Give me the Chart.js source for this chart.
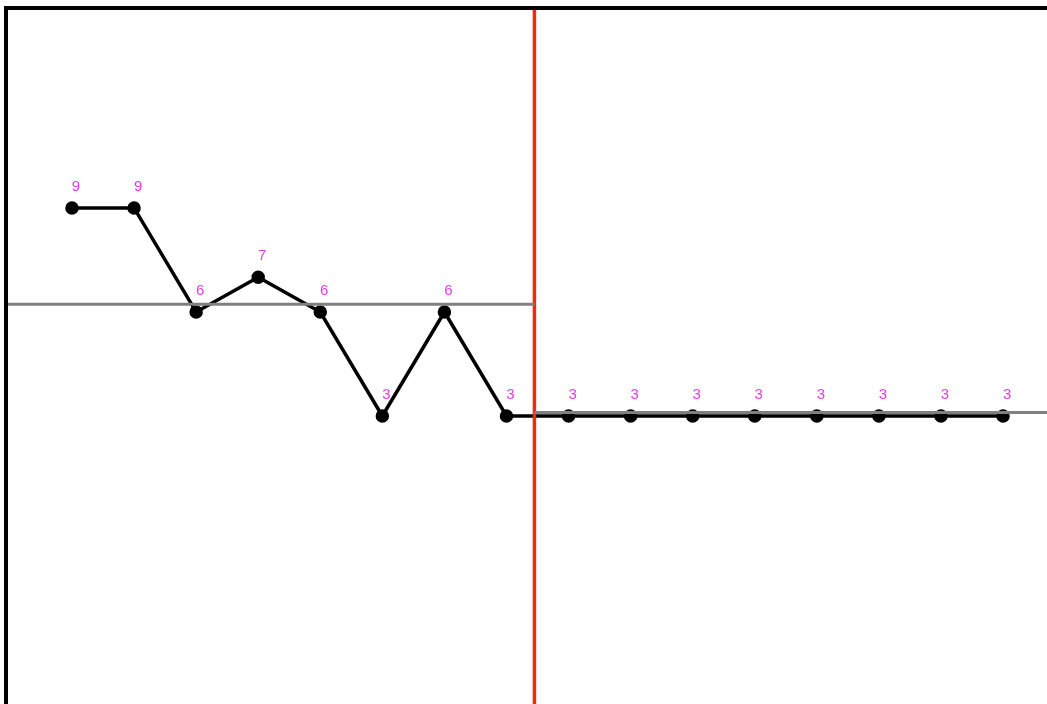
<!DOCTYPE html>
<html>
<head>
<meta charset="utf-8">
<script src="https://cdn.jsdelivr.net/npm/chart.js@4"></script>
<style>
  html, body { margin: 0; padding: 0; background: #fff; }
  #wrap {
    position: absolute; left: 4px; top: 6px;
    width: 1039px; height: 694px;
    border-left: 4px solid #000; border-top: 4px solid #000;
    border-bottom: 1px solid #e8e8e8;
  }
  #runChart { display: block; }
</style>
</head>
<body>
<div id="wrap"><canvas id="runChart" width="1039" height="694"></canvas></div>
<script>
const values = [9, 9, 6, 7, 6, 3, 6, 3, 3, 3, 3, 3, 3, 3, 3, 3];
const centerBefore = 6.22;
const centerAfter = 3.1;
const shiftAt = 7.45;

const xMin = -1.031, xMax = 15.708;
const yMin = -5.307, yMax = 14.71;

const points = values.map((v, i) => ({ x: i, y: v }));

const valueLabels = {
  id: "valueLabels",
  afterDatasetsDraw(chart) {
    const ctx = chart.ctx;
    const meta = chart.getDatasetMeta(3);
    ctx.save();
    ctx.font = "15px 'Liberation Sans', Arial, sans-serif";
    ctx.fillStyle = "#e83be8";
    ctx.textAlign = "center";
    ctx.textBaseline = "middle";
    meta.data.forEach((pt, i) => {
      ctx.fillText(String(values[i]), pt.x + 4, pt.y - 21);
    });
    ctx.restore();
  },
};

const runConfig = {
  type: "scatter",
  data: {
    datasets: [
      {
        label: "Center before",
        data: [{ x: xMin, y: centerBefore }, { x: shiftAt, y: centerBefore }],
        showLine: true,
        borderColor: "#808080",
        borderWidth: 3,
        pointRadius: 0,
      },
      {
        label: "Center after",
        data: [{ x: shiftAt, y: centerAfter }, { x: xMax, y: centerAfter }],
        showLine: true,
        borderColor: "#808080",
        borderWidth: 3,
        pointRadius: 0,
      },
      {
        label: "Shift",
        data: [{ x: shiftAt, y: yMax }, { x: shiftAt, y: yMin }],
        showLine: true,
        borderColor: "#f02a10",
        borderWidth: 3.5,
        pointRadius: 0,
      },
      {
        label: "Values",
        data: points,
        showLine: true,
        borderColor: "#000",
        backgroundColor: "#000",
        borderWidth: 3.5,
        pointRadius: 5,
        lineTension: 0,
      },
    ],
  },
  options: {
    animation: false,
    responsive: false,
    layout: { padding: 0, autoPadding: false },
    plugins: {
      legend: { display: false },
      tooltip: { enabled: false },
    },
    scales: {
      x: { type: "linear", min: xMin, max: xMax, display: false },
      y: { min: yMin, max: yMax, display: false },
    },
  },
  plugins: [valueLabels],
};

const runChart = new Chart(document.getElementById("runChart"), runConfig);
</script>
</body>
</html>
